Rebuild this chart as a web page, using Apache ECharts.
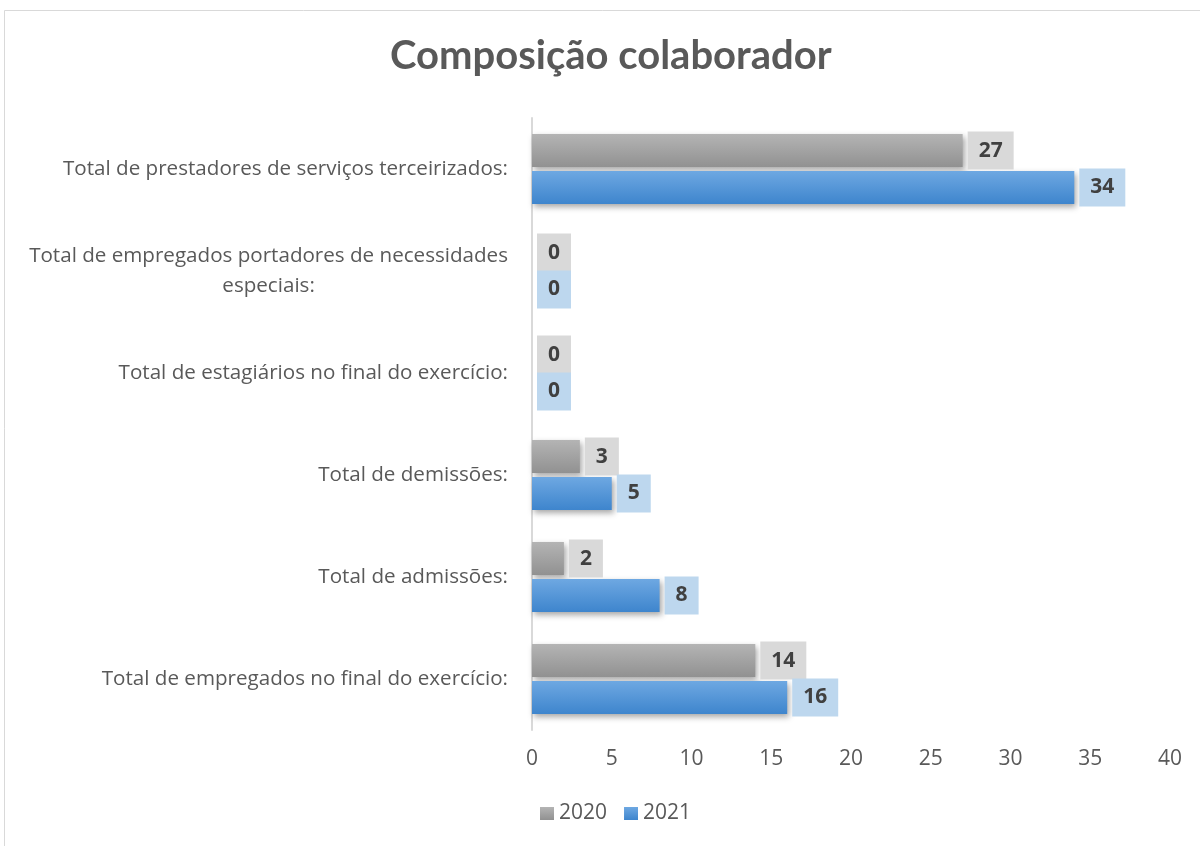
<!DOCTYPE html>
<html>
<head>
<meta charset="utf-8">
<script src="https://cdn.jsdelivr.net/npm/echarts@6/dist/echarts.min.js"></script>
<style>
  html, body { margin: 0; padding: 0; background: #fff; }
  #chart { width: 1200px; height: 846px; }
</style>
</head>
<body>
<div id="chart"></div>
<script>
// categories top to bottom
var categories = [
  'Total de prestadores de serviços terceirizados:',
  'Total de empregados portadores de necessidades\nespeciais:',
  'Total de estagiários no final do exercício:',
  'Total de demissões:',
  'Total de admissões:',
  'Total de empregados no final do exercício:'
];
var values2020 = [27, 0, 0, 3, 2, 14];
var values2021 = [34, 0, 0, 5, 8, 16];
var seriesNames = ['2020', '2021'];
var xTicks = { min: 0, max: 40, interval: 5 };

var chartDom = document.getElementById('chart');
var myChart = echarts.init(chartDom);

function grad(top, bottom) {
  return new echarts.graphic.LinearGradient(0, 0, 0, 1, [
    { offset: 0, color: top },
    { offset: 1, color: bottom }
  ]);
}

function barLabel(bg) {
  return {
    show: true,
    position: 'right',
    distance: 5,
    backgroundColor: bg,
    padding: [8, 11, 8, 11],
    fontFamily: 'Open Sans',
    fontWeight: 'bold',
    fontSize: 21,
    lineHeight: 22,
    color: '#404040'
  };
}

var option = {
  backgroundColor: '#fff',
  textStyle: { fontFamily: 'Open Sans' },
  graphic: [
    {
      type: 'rect',
      shape: { x: 4.5, y: 10.5, width: 1200, height: 840 },
      style: { fill: 'none', stroke: '#d9d9d9', lineWidth: 1 },
      silent: true
    }
  ],
  title: {
    text: 'Composição colaborador',
    left: 385,
    top: 31,
    textStyle: {
      fontFamily: 'Lato',
      fontWeight: 'bold',
      fontSize: 40,
      color: '#595959'
    }
  },
  legend: {
    data: seriesNames,
    bottom: 17,
    left: 535,
    itemWidth: 14,
    itemHeight: 13,
    itemGap: 17,
    icon: 'rect',
    textStyle: { fontFamily: 'Open Sans', fontSize: 21, color: '#595959' }
  },
  grid: {
    left: 532,
    right: 30,
    top: 118,
    bottom: 116,
    containLabel: false
  },
  xAxis: {
    type: 'value',
    min: xTicks.min,
    max: xTicks.max,
    interval: xTicks.interval,
    axisLine: { show: false },
    axisTick: { show: false },
    splitLine: { show: false },
    axisLabel: {
      margin: 19,
      fontFamily: 'Open Sans',
      fontSize: 21,
      color: '#595959'
    }
  },
  yAxis: {
    type: 'category',
    inverse: true,
    data: categories,
    axisLine: { show: true, lineStyle: { color: '#d9d9d9', width: 2 } },
    axisTick: { show: false },
    axisLabel: {
      margin: 24,
      fontFamily: 'Open Sans',
      fontSize: 20.6,
      color: '#595959',
      lineHeight: 30,
      formatter: function (v) {
        return v.split('\n').map(function (l) { return '{c|' + l + '}'; }).join('\n');
      },
      rich: {
        c: { align: 'center', fontFamily: 'Open Sans', fontSize: 20.6, color: '#595959', lineHeight: 30 }
      }
    }
  },
  series: [
    {
      name: seriesNames[0],
      type: 'bar',
      data: values2020,
      barWidth: 33,
      barGap: '12%',
      itemStyle: {
        color: grad('#b4b4b4', '#919191'),
        shadowColor: 'rgba(0,0,0,0.35)',
        shadowBlur: 6,
        shadowOffsetX: 2,
        shadowOffsetY: 3
      },
      label: barLabel('#d9d9d9')
    },
    {
      name: seriesNames[1],
      type: 'bar',
      data: values2021,
      barWidth: 33,
      barGap: '12%',
      itemStyle: {
        color: grad('#6ea8e2', '#3e85cd'),
        shadowColor: 'rgba(0,0,0,0.35)',
        shadowBlur: 6,
        shadowOffsetX: 2,
        shadowOffsetY: 3
      },
      label: barLabel('#bdd7ee')
    }
  ]
};
option && myChart.setOption(option);
</script>
</body>
</html>
